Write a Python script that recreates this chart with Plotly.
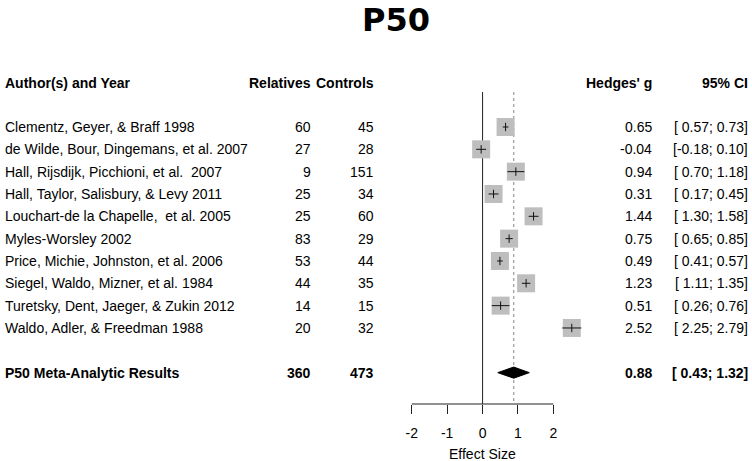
import plotly.graph_objects as go

# ---------------- data ----------------
authors = [
    "Clementz, Geyer, & Braff 1998",
    "de Wilde, Bour, Dingemans, et al. 2007",
    "Hall, Rijsdijk, Picchioni, et al.\u00a0 2007",
    "Hall, Taylor, Salisbury, & Levy 2011",
    "Louchart-de la Chapelle,\u00a0 et al. 2005",
    "Myles-Worsley 2002",
    "Price, Michie, Johnston, et al. 2006",
    "Siegel, Waldo, Mizner, et al. 1984",
    "Turetsky, Dent, Jaeger, & Zukin 2012",
    "Waldo, Adler, & Freedman 1988",
]
relatives = [60, 27, 9, 25, 25, 83, 53, 44, 14, 20]
controls = [45, 28, 151, 34, 60, 29, 44, 35, 15, 32]
hedges_g = [0.65, -0.04, 0.94, 0.31, 1.44, 0.75, 0.49, 1.23, 0.51, 2.52]
ci_lo = [0.57, -0.18, 0.70, 0.17, 1.30, 0.65, 0.41, 1.11, 0.26, 2.25]
ci_hi = [0.73, 0.10, 1.18, 0.45, 1.58, 0.85, 0.57, 1.35, 0.76, 2.79]

summary_label = "P50 Meta-Analytic Results"
summary_rel = 360
summary_ctl = 473
summary_g = 0.88
summary_lo = 0.43
summary_hi = 1.32

title_text = "P50"
header_labels = ["Author(s) and Year", "Relatives", "Controls", "Hedges' g", "95% CI"]
tick_values = [-2, -1, 0, 1, 2]
tick_labels = ["-2", "-1", "0", "1", "2"]

# ---------------- layout helpers ----------------
W, H = 752, 461
FONT = "Liberation Sans, Arial, sans-serif"
rows = list(range(1, len(authors) + 1))
sum_y = len(authors) + 2
head_y = -0.95
y_top, y_bot = -4.687, 13.405
line_top = -0.57


def px(p):
    return p / W


fig = go.Figure()

# reference lines (null effect and pooled estimate)
fig.add_trace(go.Scatter(x=[0, 0], y=[line_top, y_bot], mode="lines",
                         line=dict(color="#222222", width=1), hoverinfo="skip"))
fig.add_trace(go.Scatter(x=[summary_g, summary_g], y=[line_top, y_bot], mode="lines",
                         line=dict(color="#9a9a9a", width=1.2, dash="dot"), hoverinfo="skip"))

# study squares
fig.add_trace(go.Scatter(x=hedges_g, y=rows, mode="markers",
                         marker=dict(symbol="square", size=18, color="#bebebe",
                                     line=dict(width=0)),
                         hoverinfo="skip"))
# confidence interval lines
xs, ys = [], []
for lo, hi, r in zip(ci_lo, ci_hi, rows):
    xs += [lo, hi, None]
    ys += [r, r, None]
fig.add_trace(go.Scatter(x=xs, y=ys, mode="lines", line=dict(color="#111111", width=1),
                         hoverinfo="skip"))
# estimate ticks
fig.add_trace(go.Scatter(x=hedges_g, y=rows, mode="markers",
                         marker=dict(symbol="line-ns", size=6,
                                     line=dict(color="#111111", width=1)),
                         hoverinfo="skip"))
# summary diamond
dh = 0.25
fig.add_trace(go.Scatter(
    x=[summary_lo, summary_g, summary_hi, summary_g, summary_lo],
    y=[sum_y, sum_y - dh, sum_y, sum_y + dh, sum_y],
    mode="lines", fill="toself", fillcolor="black",
    line=dict(color="black", width=1), hoverinfo="skip"))

ann = []


def text(x, y, s, anchor, bold=False, size=14):
    ann.append(dict(x=px(x), y=y, xref="paper", yref="y", text=f"<b>{s}</b>" if bold else s,
                    showarrow=False, xanchor=anchor, yanchor="middle",
                    font=dict(family=FONT, size=size, color="black")))


# title
ann.append(dict(x=396 / W, y=1, xref="paper", yref="paper", text=f"<b>{title_text}</b>",
                showarrow=False, xanchor="center", yanchor="top", borderpad=0,
                font=dict(family="DejaVu Sans", size=32, color="black")))

# header
text(3, head_y, header_labels[0], "left", True)
text(313, head_y, header_labels[1], "right", True)
text(376, head_y, header_labels[2], "right", True)
text(654, head_y, header_labels[3], "right", True)
text(750, head_y, header_labels[4], "right", True)

# study rows
for a, rel, ctl, gv, lo, hi, r in zip(authors, relatives, controls, hedges_g, ci_lo, ci_hi, rows):
    text(3, r, a, "left")
    text(313, r, str(rel), "right")
    text(376, r, str(ctl), "right")
    text(654, r, f"{gv:.2f}", "right")
    text(750, r, f"[{lo:5.2f}; {hi:.2f}]".replace(" ", "\u00a0"), "right")

# summary row
text(3, sum_y, summary_label, "left", True)
text(313, sum_y, str(summary_rel), "right", True)
text(376, sum_y, str(summary_ctl), "right", True)
text(654, sum_y, f"{summary_g:.2f}", "right", True)
text(750, sum_y, f"[{summary_lo:5.2f}; {summary_hi:.2f}]".replace(" ", "\u00a0"), "right", True)

# axis title
ann.append(dict(x=0, y=-50 / 404, xref="x", yref="paper", text="Effect Size",
                showarrow=False, xanchor="center", yanchor="middle",
                font=dict(family=FONT, size=14, color="black")))

fig.update_layout(
    width=W, height=H,
    margin=dict(l=0, r=0, t=0, b=57),
    paper_bgcolor="white", plot_bgcolor="white",
    showlegend=False,
    xaxis=dict(range=[-13.63, 7.61], tickvals=tick_values, ticktext=tick_labels,
               ticks="outside", ticklen=9, tickcolor="#222222", tickwidth=1,
               ticklabelstandoff=7,
               showgrid=False, zeroline=False, showline=False,
               tickfont=dict(family=FONT, size=14, color="black"), fixedrange=True),
    yaxis=dict(range=[y_bot, y_top], visible=False, fixedrange=True),
    annotations=ann,
    shapes=[dict(type="line", xref="x", yref="paper", x0=tick_values[0], x1=tick_values[-1],
                 y0=0, y1=0, line=dict(color="#222222", width=1))],
)

fig.write_html("out.html", config={"displayModeBar": False},
               post_script="document.body.style.margin='0';document.body.style.overflow='hidden';")
